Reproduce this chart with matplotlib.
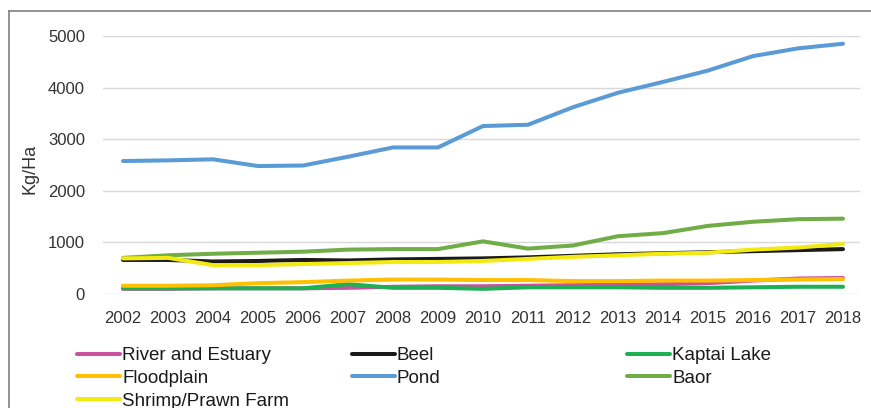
import matplotlib
matplotlib.use("Agg")
import matplotlib.pyplot as plt
from matplotlib.lines import Line2D

plt.rcParams['font.family'] = ['Liberation Sans', 'DejaVu Sans']

years = [str(y) for y in range(2002, 2019)]

river_estuary = [100, 100, 110, 110, 110, 120, 140, 150, 150, 160, 170, 180, 190, 210, 260, 300, 310]
beel = [660, 660, 630, 640, 660, 650, 670, 680, 690, 710, 740, 770, 790, 810, 830, 850, 870]
kaptai_lake = [110, 110, 110, 110, 110, 190, 120, 120, 100, 130, 130, 130, 120, 120, 130, 140, 140]
floodplain = [160, 160, 170, 210, 230, 260, 280, 280, 270, 270, 250, 250, 260, 260, 270, 280, 290]
pond = [2577, 2590, 2610, 2480, 2490, 2660, 2840, 2840, 3255, 3280, 3620, 3900, 4110, 4330, 4610, 4760, 4850]
baor = [700, 750, 780, 800, 820, 860, 870, 870, 1020, 880, 940, 1120, 1180, 1320, 1400, 1450, 1460]
shrimp_prawn = [690, 700, 560, 560, 580, 600, 620, 620, 640, 680, 720, 750, 780, 800, 860, 900, 970]

series = [
    ("River and Estuary", river_estuary, "#C9519F"),
    ("Beel", beel, "#1A1A1A"),
    ("Kaptai Lake", kaptai_lake, "#1DB154"),
    ("Floodplain", floodplain, "#FFC000"),
    ("Pond", pond, "#5B9BD5"),
    ("Baor", baor, "#70AD47"),
    ("Shrimp/Prawn Farm", shrimp_prawn, "#F2EA10"),
]

W, H = 871, 408
fig = plt.figure(figsize=(W / 100, H / 100), dpi=100)
ax = fig.add_axes([103 / W, 1 - 294 / H, (860 - 103) / W, (294 - 36) / H])

x = list(range(len(years)))
handles = {}
for name, vals, col in series:
    ln, = ax.plot(x, vals, color=col, lw=2.9, solid_capstyle='round',
                  solid_joinstyle='round', label=name)
    handles[name] = ln

ax.set_xlim(-20 / 45, 16 + 17 / 45)
ax.set_ylim(0, 5000)
ax.set_yticks(range(0, 5001, 1000))
ax.set_xticks(x)
ax.set_xticklabels(years)
ax.grid(axis='y', color='#d9d9d9', lw=1)
ax.set_axisbelow(True)
for s in ax.spines.values():
    s.set_visible(False)
ax.tick_params(axis='both', length=0, labelsize=12, colors='#333333')
ax.tick_params(axis='x', pad=12)
ax.tick_params(axis='y', pad=13)
ax.set_ylabel("Kg/Ha", fontsize=13, color='#333333')
ax.yaxis.set_label_coords(39 / W, 1 - 169 / H, transform=fig.transFigure)

# legend: three equally spaced columns under the plot
cols = [
    (["River and Estuary", "Floodplain", "Shrimp/Prawn Farm"], 77),
    (["Beel", "Pond"], 352),
    (["Kaptai Lake", "Baor"], 627),
]
for names, xpx in cols:
    leg = fig.legend([handles[n] for n in names], names, loc='upper left',
                     bbox_to_anchor=(xpx / W, 1 - 347 / H), frameon=False,
                     fontsize=13.5, handlelength=2.3, handletextpad=0.1,
                     labelspacing=0.3, borderpad=0, borderaxespad=0)
    for t in leg.get_texts():
        t.set_color('#1a1a1a')

# outer chart frame (top and left edges)
fig.add_artist(Line2D([9 / W, 1], [1 - 11 / H, 1 - 11 / H], color='#7f7f7f', lw=1.2))
fig.add_artist(Line2D([9 / W, 9 / W], [1 - 11 / H, 0], color='#7f7f7f', lw=1.2))

fig.savefig("out.png", dpi=100)
